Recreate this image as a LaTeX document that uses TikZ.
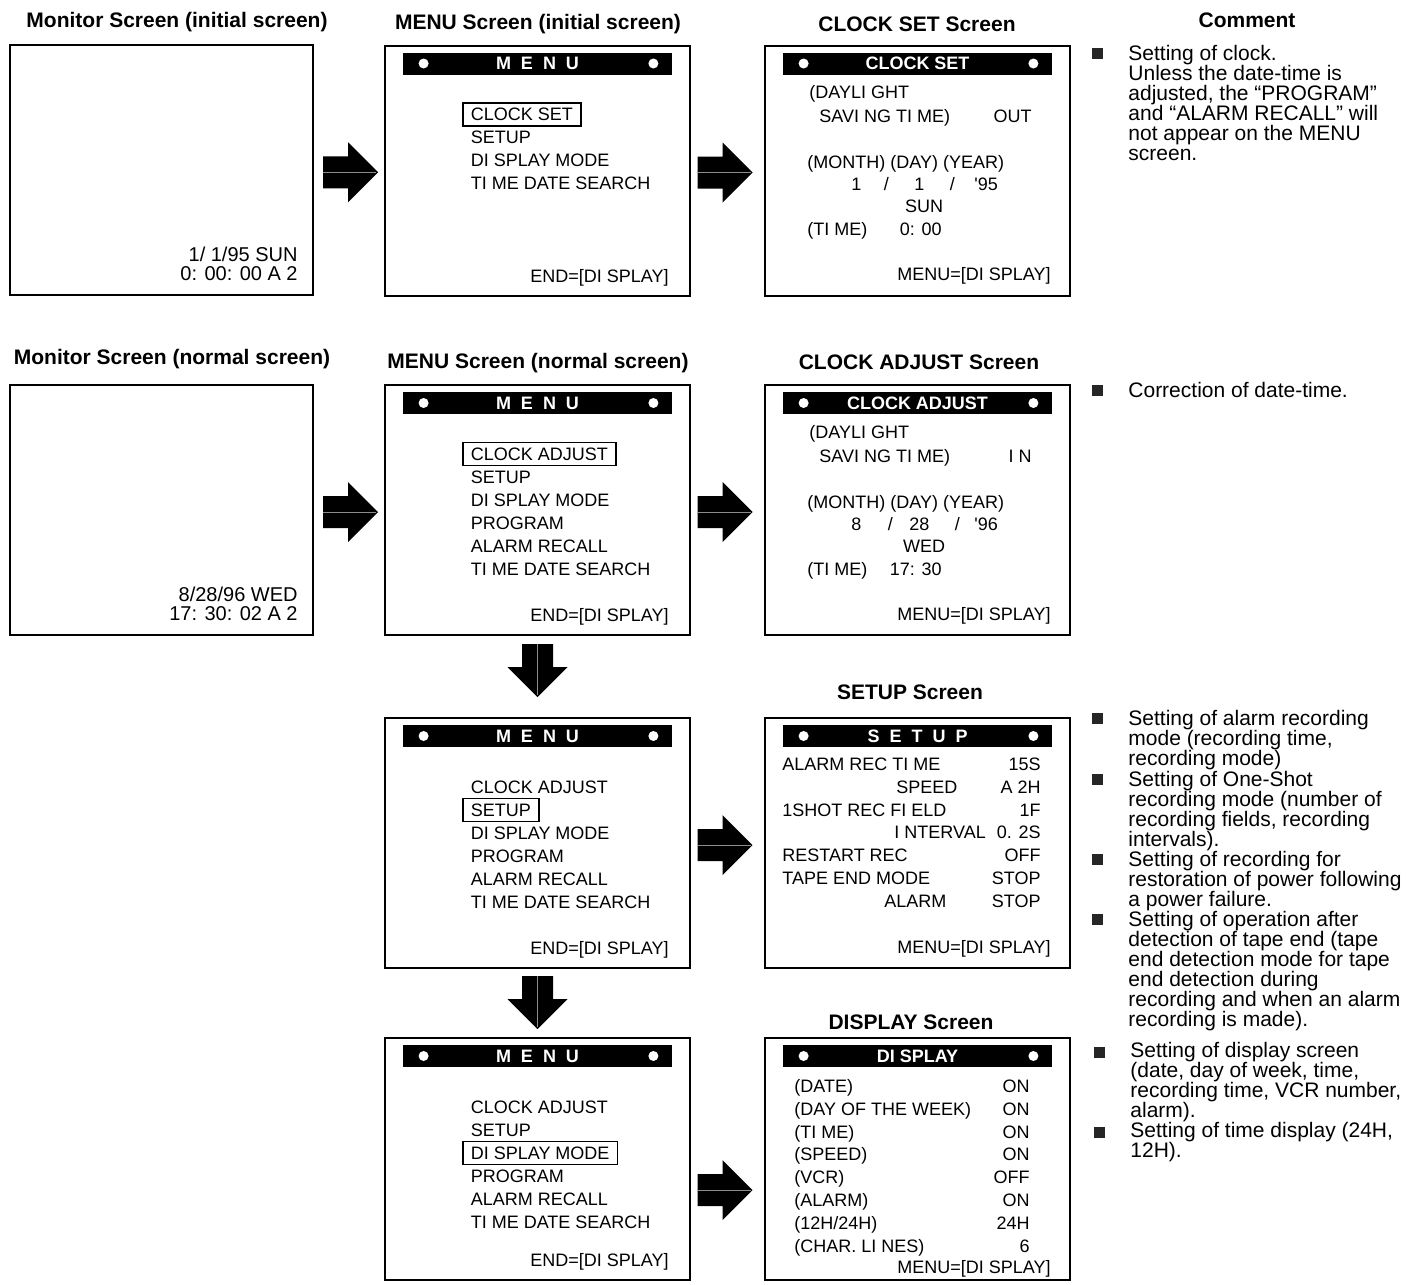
\documentclass[tikz,border=0pt]{standalone}
\usepackage{fontspec}
\setmainfont{Liberation Sans}
\usetikzlibrary{positioning,calc}
\tikzset{
  scrbox/.style={draw, line width=1pt, inner sep=0pt, minimum width=152.5pt, minimum height=125pt},
  scrtxt/.style={font=\fontsize{9}{10}\selectfont, inner sep=0pt, text height=6.4pt, text depth=0pt},
  montxt/.style={font=\fontsize{10}{11}\selectfont, inner sep=0pt, text height=7.2pt, text depth=0pt, anchor=east},
  menuitem/.style={scrtxt, anchor=west, draw, line width=0.8pt, draw opacity=0, inner xsep=4pt, inner ysep=2.6pt},
  titlebar/.style={fill=black, text=white, font=\bfseries\fontsize{9}{10}\selectfont, minimum width=134.5pt, minimum height=11pt, inner sep=0pt},
  spread/.style={font={\bfseries\fontsize{9}{10}\selectfont\spaceskip=5pt}},
  heading/.style={font=\bfseries\fontsize{10.5}{12}\selectfont, inner sep=0pt, text height=7.5pt, text depth=0pt},
  cmt/.style={font={\fontsize{10.5}{10}\selectfont\lineskiplimit=-10pt}, align=left, anchor=north west, inner sep=0pt},
  sqbullet/.style={fill=black!85, minimum size=5.5pt, inner sep=0pt},
  seam/.style={black!45, line width=0.3pt}
}
\newcommand{\scrbar}[3][]{%
  \node[titlebar,#1] (#2bar) at ($(#2.north)+(0,19)$) {#3};
  \fill[white] ($(#2bar.west)+(21,0)$) circle (2.5pt);
  \fill[white] ($(#2bar.east)+(-19,0)$) circle (2.5pt);
}
\newcommand{\menulist}[3]{%
  \foreach \lbl [count=\row from 0] in {#3} {
    \ifnum\row=#2 \def\op{1}\else\def\op{0}\fi
    \node[menuitem, draw opacity=\op] (#1m\row) at ($(#1.north west)+(78,70+23*\row)$) {\lbl};
  }
  \node[scrtxt, anchor=east] (#1end) at ($(#1.south east)+(-22,-20.5)$) {END=[DI SPLAY]};
}
\newcommand{\clockscreen}[5]{%
  \node[scrtxt, anchor=west] (#1a) at ($(#1.north west)+(45,48)$) {(DAYLI GHT};
  \node[scrtxt, anchor=west] (#1b) at ($(#1.north west)+(55,72)$) {SAVI NG TI ME)};
  \node[scrtxt, anchor=east] (#1c) at ($(#1.north west)+(268,72)$) {#2};
  \node[scrtxt, anchor=west] (#1d) at ($(#1.north west)+(43,118)$) {(MONTH) (DAY) (YEAR)};
  \node[scrtxt, anchor=west] (#1e) at ($(#1.north west)+(87,140)$) {#3};
  \node[scrtxt] (#1f) at ($(#1.north west)+(160,162)$) {#4};
  \node[scrtxt, anchor=west] (#1g) at ($(#1.north west)+(43,185)$) {(TI ME)};
  \node[scrtxt, anchor=east] (#1h) at ($(#1.north west)+(178,185)$) {#5};
  \node[scrtxt, anchor=east] (#1end) at ($(#1.north east)+(-20,230)$) {MENU=[DI SPLAY]};
}
\newcommand{\rarrow}[1]{%
  \fill #1 +(-26,-16) -- +(-1,-16) -- +(-1,-30) -- +(29,0) -- +(-1,30) -- +(-1,16) -- +(-26,16) -- cycle;
  \draw[seam] #1 +(-26,0) -- +(27,0);
}
\newcommand{\darrow}[1]{%
  \fill #1 +(-15.5,0) -- +(15.5,0) -- +(15.5,23) -- +(30,23) -- +(0,53) -- +(-30,23) -- +(-15.5,23) -- cycle;
  \draw[seam] #1 +(0,0) -- +(0,51);
}

\begin{document}
\begin{tikzpicture}[x=0.5pt,y=-0.5pt]
\useasboundingbox (0,0) rectangle (1419,1285);

% screens
\node[scrbox, minimum width=151.5pt] (monA) at (161.5,170) {};
\node[scrbox] (menuA) at (537.5,170.5) {};
\node[scrbox] (setA) at (917.5,170.5) {};
\node[scrbox, minimum width=151.5pt] (monB) at (161.5,510) {};
\node[scrbox] (menuB) at (537.5,510) {};
\node[scrbox] (adjB) at (917.5,510) {};
\node[scrbox] (menuC) at (537.5,843) {};
\node[scrbox] (setupC) at (917.5,843) {};
\node[scrbox, minimum height=121pt] (menuD) at (537.5,1159) {};
\node[scrbox, minimum height=121pt] (dispD) at (917.5,1159) {};

% headings
\node[heading] (hMonA) at (177,20) {Monitor Screen (initial screen)};
\node[heading] (hMenuA) at (538,22) {MENU Screen (initial screen)};
\node[heading] (hSetA) at (917,24) {CLOCK SET Screen};
\node[heading] (hCmt) at (1247,20) {Comment};
\node[heading] (hMonB) at (172,357) {Monitor Screen (normal screen)};
\node[heading] (hMenuB) at (538,361) {MENU Screen (normal screen)};
\node[heading] (hAdjB) at (919,362) {CLOCK ADJUST Screen};
\node[heading] (hSetupC) at (910,692) {SETUP Screen};
\node[heading] (hDispD) at (911,1022) {DISPLAY Screen};

% monitor screens
\node[montxt] (monAt1) at ($(monA.south east)+(-16,-41.5)$) {1/ 1/95 SUN};
\node[montxt] (monAt2) at ($(monA.south east)+(-16,-23)$) {0: 00: 00 A 2};
\node[montxt] (monBt1) at ($(monB.south east)+(-16,-41.5)$) {8/28/96 WED};
\node[montxt] (monBt2) at ($(monB.south east)+(-16,-23)$) {17: 30: 02 A 2};

% menus
\scrbar[spread]{menuA}{M E N U}
\menulist{menuA}{0}{CLOCK SET, SETUP, DI SPLAY MODE, TI ME DATE SEARCH}
\scrbar[spread]{menuB}{M E N U}
\menulist{menuB}{0}{CLOCK ADJUST, SETUP, DI SPLAY MODE, PROGRAM, ALARM RECALL, TI ME DATE SEARCH}
\scrbar[spread]{menuC}{M E N U}
\menulist{menuC}{1}{CLOCK ADJUST, SETUP, DI SPLAY MODE, PROGRAM, ALARM RECALL, TI ME DATE SEARCH}
\scrbar[spread]{menuD}{M E N U}
\menulist{menuD}{2}{CLOCK ADJUST, SETUP, DI SPLAY MODE, PROGRAM, ALARM RECALL, TI ME DATE SEARCH}

% clock screens
\scrbar{setA}{CLOCK SET}
\clockscreen{setA}{OUT}{1\hspace{11.25pt}/\hspace{12.75pt}1\hspace{12.75pt}/\hspace{9.75pt}\textquotesingle95}{SUN}{0: 00}
\scrbar{adjB}{CLOCK ADJUST}
\clockscreen{adjB}{I N}{8\hspace{13.25pt}/\hspace{8.25pt}28\hspace{12.75pt}/\hspace{7.25pt}\textquotesingle96}{WED}{17: 30}

% setup screen
\scrbar[spread]{setupC}{S E T U P}
\foreach \lbl/\dx/\val [count=\row from 0] in {{ALARM REC TI ME}/0/15S, {SPEED}/114/{A 2H}, {1SHOT REC FI ELD}/0/1F, {I NTERVAL}/112/{0. 2S}, {RESTART REC}/0/OFF, {TAPE END MODE}/0/STOP, {ALARM}/102/STOP} {
  \node[scrtxt, anchor=west] (setupCl\row) at ($(setupC.north west)+(18+\dx,47+22.8*\row)$) {\lbl};
  \node[scrtxt, anchor=east] (setupCv\row) at ($(setupC.north east)+(-30,47+22.8*\row)$) {\val};
}
\node[scrtxt, anchor=east] (setupCend) at ($(setupC.north east)+(-20,230)$) {MENU=[DI SPLAY]};

% display screen
\scrbar{dispD}{DI SPLAY}
\foreach \lbl/\val [count=\row from 0] in {{(DATE)}/ON, {(DAY OF THE WEEK)}/ON, {(TI ME)}/ON, {(SPEED)}/ON, {(VCR)}/OFF, {(ALARM)}/ON, {(12H/24H)}/24H, {(CHAR. LI NES)}/6} {
  \node[scrtxt, anchor=west] (dispDl\row) at ($(dispD.north west)+(30,49+22.8*\row)$) {\lbl};
  \node[scrtxt, anchor=east] (dispDv\row) at ($(dispD.north east)+(-41,49+22.8*\row)$) {\val};
}
\node[scrtxt, anchor=east] (dispDend) at ($(dispD.north east)+(-20,230)$) {MENU=[DI SPLAY]};

% arrows
\rarrow{($(monA.east)!.5!(menuA.west)+(0,2)$)}
\rarrow{($(menuA.east)!.5!(setA.west)+(-4,2)$)}
\rarrow{($(monB.east)!.5!(menuB.west)+(0,2)$)}
\rarrow{($(menuB.east)!.5!(adjB.west)+(-4,2)$)}
\rarrow{($(menuC.east)!.5!(setupC.west)+(-4,2)$)}
\rarrow{($(menuD.east)!.5!(dispD.west)+(-4,31)$)}
\darrow{($(menuB.south)+(0,8)$)}
\darrow{($(menuC.south)+(0,7)$)}

% comments
\node[sqbullet] (bul1) at (1097.5,53) {};
\node[cmt] (cmt1) at (1128,45) {Setting of clock.\\Unless the date-time is\\adjusted, the “PROGRAM”\\and “ALARM RECALL” will\\not appear on the MENU\\screen.};
\node[sqbullet] (bul2) at (1097.5,390) {};
\node[cmt] (cmt2) at (1128,382) {Correction of date-time.};
\node[sqbullet] (bul3) at (1097.5,718) {};
\node[cmt] (cmt3) at (1128,710) {Setting of alarm recording\\mode (recording time,\\recording mode)};
\node[sqbullet] (bul4) at (1097.5,779) {};
\node[cmt] (cmt4) at (1128,771) {Setting of One-Shot\\recording mode (number of\\recording fields, recording\\intervals).};
\node[sqbullet] (bul5) at (1097.5,859) {};
\node[cmt] (cmt5) at (1128,851) {Setting of recording for\\restoration of power following\\a power failure.};
\node[sqbullet] (bul6) at (1097.5,919) {};
\node[cmt] (cmt6) at (1128,911) {Setting of operation after\\detection of tape end (tape\\end detection mode for tape\\end detection during\\recording and when an alarm\\recording is made).};
\node[sqbullet] (bul7) at (1099,1052) {};
\node[cmt] (cmt7) at (1130,1042) {Setting of display screen\\(date, day of week, time,\\recording time, VCR number,\\alarm).};
\node[sqbullet] (bul8) at (1099,1132) {};
\node[cmt] (cmt8) at (1130,1122) {Setting of time display (24H,\\12H).};
\end{tikzpicture}
\end{document}
